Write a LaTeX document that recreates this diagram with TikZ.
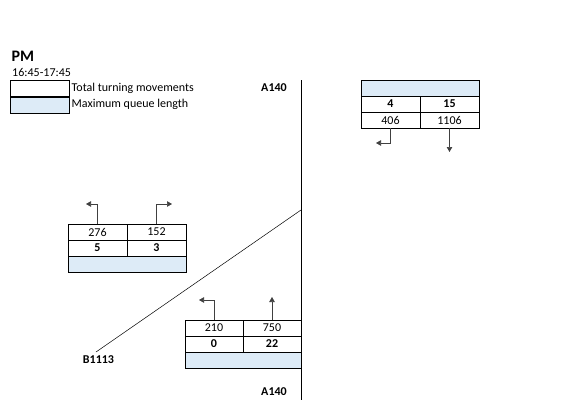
\documentclass[tikz,border=0pt]{standalone}
\usepackage{fontspec}
\setmainfont{Carlito}
\usetikzlibrary{arrows.meta,calc,positioning}
\definecolor{queueblue}{RGB}{221,235,247}

\begin{document}
\begin{tikzpicture}[x=1pt, y=-1pt, >={Triangle[length=5pt,width=5.5pt]},
  txt/.style={font=\fontsize{12}{14}\selectfont, inner sep=0pt},
  bold/.style={txt, font=\fontsize{12}{14}\selectfont\bfseries},
  cell/.style={draw=black, line width=0.7pt, minimum width=59pt, minimum height=16pt, inner sep=0pt, txt},
  bcell/.style={cell, font=\fontsize{12}{14}\selectfont\bfseries},
  qcell/.style={cell, fill=queueblue, minimum width=118pt},
  turn/.style={->, draw=black!75, line width=0.7pt}]
  \useasboundingbox (0,0) rectangle (585,404);

  % Header and legend
  \node[anchor=west, inner sep=0pt, font=\fontsize{16}{18}\selectfont\bfseries] (pm) at (11.5,56) {PM};
  \node[txt, anchor=west] (period) at (12,72) {16:45-17:45};
  \node[draw=black, line width=0.7pt, minimum width=59pt, minimum height=16pt, inner sep=0pt, anchor=north west] (legw) at (10,80) {};
  \node[draw=black, line width=0.7pt, fill=queueblue, minimum width=59pt, minimum height=16pt, inner sep=0pt, anchor=north] (legb) at (legw.south) {};
  \node[txt, anchor=west] (legwtxt) at (71.5,88) {Total turning movements};
  \node[txt, anchor=west] (legbtxt) at (71.5,104) {Maximum queue length};

  % Roads
  \node[bold] (a140n) at (274,88) {A140};
  \node[bold] (a140s) at (274,392) {A140};
  \node[bold] (b1113) at (98.5,360) {B1113};
  \coordinate (rdtop) at (301,80);
  \coordinate (rdbot) at (301,400);
  \coordinate (jct) at (301,210);
  \coordinate (bend) at (96,352);
  \draw[line width=0.8pt] (rdtop) -- (rdbot);
  \draw[line width=0.5pt] (jct) -- (bend);

  % North arm (A140 north)
  \node[qcell] (nq) at (420,88) {};
  \node[bcell] (nql) at (390.5,104) {4};
  \node[bcell] (nqr) at (449.5,104) {15};
  \node[cell] (nvl) at (390.5,120) {406};
  \node[cell] (nvr) at (449.5,120) {1106};
  \coordinate (nal) at (376,143);
  \coordinate (nar) at (449.5,152);
  \draw[turn] (nvl.south) |- (nal);
  \draw[turn] (nvr.south) -- (nar);

  % West arm (B1113)
  \node[cell] (wvl) at (97.5,232) {276};
  \node[cell] (wvr) at (156.5,232) {152};
  \node[bcell] (wql) at (97.5,248) {5};
  \node[bcell] (wqr) at (156.5,248) {3};
  \node[qcell] (wq) at (127,264) {};
  \coordinate (wal) at (86,204);
  \coordinate (war) at (172,204);
  \draw[turn] (wvl.north) |- (wal);
  \draw[turn] (wvr.north) |- (war);

  % South arm (A140 south)
  \node[cell, minimum width=58pt] (svl) at (214,328) {210};
  \node[cell, minimum width=58pt] (svr) at (272,328) {750};
  \node[bcell, minimum width=58pt] (sql) at (214,344) {0};
  \node[bcell, minimum width=58pt] (sqr) at (272,344) {22};
  \node[qcell, minimum width=116pt] (sq) at (243,360) {};
  \coordinate (sal) at (199,300);
  \coordinate (sar) at (272,297);
  \draw[turn] (svl.north) |- (sal);
  \draw[turn] (svr.north) -- (sar);
\end{tikzpicture}
\end{document}
